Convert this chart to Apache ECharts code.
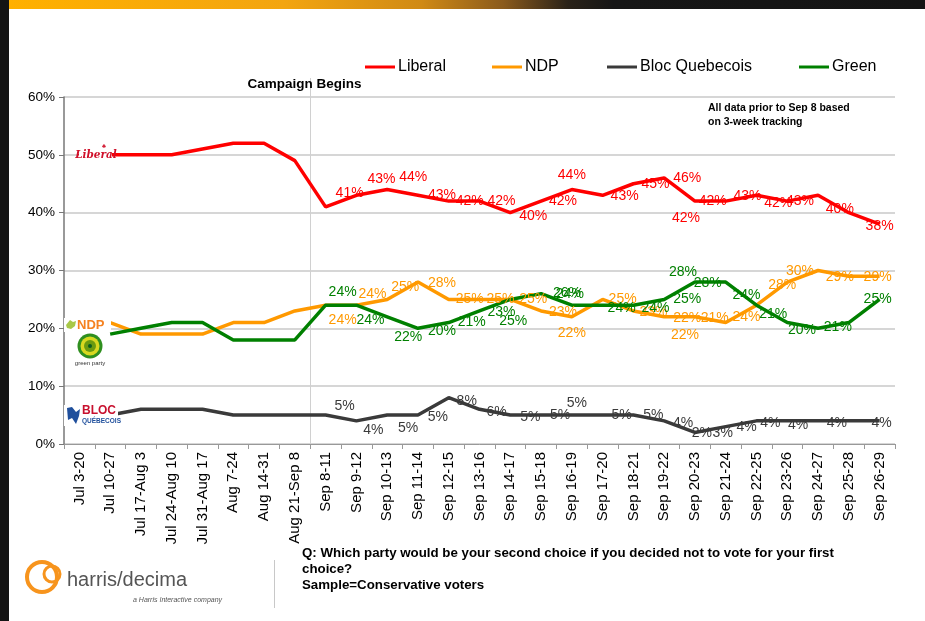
<!DOCTYPE html>
<html>
<head>
<meta charset="utf-8">
<script src="https://cdn.jsdelivr.net/npm/echarts@6/dist/echarts.min.js"></script>
<style>
html,body{margin:0;padding:0;background:#fff;}
#c{width:925px;height:621px;}
</style>
</head>
<body>
<div id="c"></div>
<script>
const categories = ['Jul 3-20','Jul 10-27','Jul 17-Aug 3','Jul 24-Aug 10','Jul 31-Aug 17','Aug 7-24','Aug 14-31','Aug 21-Sep 8',
  'Sep 8-11','Sep 9-12','Sep 10-13','Sep 11-14','Sep 12-15','Sep 13-16','Sep 14-17','Sep 15-18','Sep 16-19','Sep 17-20',
  'Sep 18-21','Sep 19-22','Sep 20-23','Sep 21-24','Sep 22-25','Sep 23-26','Sep 24-27','Sep 25-28','Sep 26-29'];
const liberal = [null,50,50,50,51,52,52,49,41,43,44,43,42,42,40,42,44,43,45,46,42,42,43,42,43,40,38];
const ndp     = [null,21,19,19,19,21,21,23,24,24,25,28,25,25,25,23,22,25,23,22,22,21,24,28,30,29,29];
const bloc    = [null,5,6,6,6,5,5,5,5,4,5,5,8,6,5,5,5,5,5,4,2,3,4,4,4,4,4];
const green   = [null,19,20,21,21,18,18,18,24,24,22,20,21,23,25,26,24,24,24,25,28,28,24,21,20,21,25];
const yTicks = [0,10,20,30,40,50,60];

// label layout (offsets in px of each daily-tracking label from its point, first labelled index = 8)
const firstLabelled = 8;
const liberalLabelOffset = [[24,-14],[25,-16],[26,-12],[24,0],[21,0],[22,0],[23,3],[22,0],[0,-14],[22,1],[22,0],[23,0],[-9,17],[-13,0],[-9,1],[-9,2],[-18,6],[-9,-4],[0,2]];
const ndpLabelOffset = [[17,15],[16,-11],[18,-12],[24,1],[21,0],[21,0],[23,0],[22,1],[0,16],[20,0],[20,1],[23,1],[-10,18],[-11,-4],[-10,12],[-5,3],[-18,1],[-9,1],[-2,1]];
const blocLabelOffset = [[19,-9],[17,9],[21,13],[20,2],[18,3],[17,3],[20,2],[19,0],[5,-12],[19,0],[20,0],[19,2],[7,1],[-3,6],[-10,6],[-17,2],[-20,4],[-12,2],[2,2]];
const greenLabelOffset = [[17,-13],[14,15],[21,20],[24,3],[23,0],[22,1],[3,22],[26,0],[-2,-11],[19,3],[22,3],[23,0],[-12,-10],[-18,1],[-10,-10],[-14,-8],[-16,2],[-11,5],[-2,0]];

const FONT = '"Liberation Sans", Arial, sans-serif';
const NARROW = '"Liberation Sans Narrow", "Liberation Sans", Arial, sans-serif';

function buildData(vals, offsets) {
  return vals.map((v, i) => {
    if (i < firstLabelled || v == null) return {value: v, label: {show: false}};
    return {value: v, label: {show: true, offset: offsets[i - firstLabelled]}};
  });
}
function makeSeries(name, vals, offsets, color) {
  return {
    name: name, type: 'line', data: buildData(vals, offsets),
    symbol: 'circle', symbolSize: 0.1, showSymbol: true,
    lineStyle: {color: color, width: 3.5},
    itemStyle: {color: color},
    label: {position: 'inside', color: color, fontFamily: FONT, fontSize: 14,
      formatter: p => p.value + '%', align: 'center', verticalAlign: 'middle'},
    emphasis: {disabled: true},
    animation: false
  };
}
function legendAt(name, left) {
  return {data: [name], left: left, top: 54, itemWidth: 30, itemHeight: 3, icon: 'rect', itemGap: 0,
    textStyle: {fontFamily: NARROW, fontSize: 16, color: '#000', padding: [0,0,0,-2]}};
}

const chart = echarts.init(document.getElementById('c'), null, {renderer: 'canvas'});
const option = {
  backgroundColor: '#fff',
  animation: false,
  legend: [legendAt('Liberal', 360), legendAt('NDP', 487), legendAt('Bloc Quebecois', 602), legendAt('Green', 794)],
  grid: {left: 64, right: 30, top: 97, bottom: 177, containLabel: false},
  xAxis: {
    type: 'category', data: categories, boundaryGap: true,
    axisLine: {lineStyle: {color: '#999', width: 1}},
    axisTick: {show: true, length: 5, lineStyle: {color: '#999'}},
    axisLabel: {rotate: 90, interval: 0, fontFamily: FONT, fontSize: 15, color: '#000', margin: 8}
  },
  yAxis: {
    type: 'value', min: 0, max: 60, interval: 10,
    axisLine: {show: true, lineStyle: {color: '#777', width: 1.5}},
    axisTick: {show: true, length: 5, lineStyle: {color: '#777'}},
    splitLine: {lineStyle: {color: '#c8c8c8', width: 1.5}},
    axisLabel: {fontFamily: FONT, fontSize: 13.5, color: '#000', margin: 9,
      formatter: v => yTicks.includes(v) ? v + '%' : ''}
  },
  series: [
    makeSeries('Liberal', liberal, liberalLabelOffset, '#ff0000'),
    makeSeries('NDP', ndp, ndpLabelOffset, '#ff9900'),
    makeSeries('Bloc Quebecois', bloc, blocLabelOffset, '#3a3a3a'),
    makeSeries('Green', green, greenLabelOffset, '#008000')
  ]
};
chart.setOption(option);

// Campaign line at the boundary between Aug 21-Sep 8 and Sep 8-11
const xa = chart.convertToPixel({xAxisIndex: 0}, 'Aug 21-Sep 8');
const xb = chart.convertToPixel({xAxisIndex: 0}, 'Sep 8-11');
const campX = Math.round((xa + xb) / 2) + 0.5;
const yTop = chart.convertToPixel({yAxisIndex: 0}, 60);
const yBot = chart.convertToPixel({yAxisIndex: 0}, 0);

chart.setOption({
  graphic: [
    // page frame
    {type: 'rect', shape: {x: 0, y: 0, width: 9, height: 621}, style: {fill: '#141414'}, silent: true},
    {type: 'rect', shape: {x: 9, y: 0, width: 916, height: 9},
      style: {fill: new echarts.graphic.LinearGradient(0, 0, 1, 0, [
        {offset: 0, color: '#ffb000'}, {offset: 0.3, color: '#f3a510'}, {offset: 0.45, color: '#d08a15'},
        {offset: 0.54, color: '#8a5a1c'}, {offset: 0.61, color: '#2a2218'}, {offset: 0.66, color: '#161616'}, {offset: 1, color: '#141414'}])}, silent: true},
    // campaign line & label
    {type: 'line', shape: {x1: campX, y1: yTop - 19, x2: campX, y2: yBot}, style: {stroke: '#d0d0d0', lineWidth: 1}, silent: true, z: 1},
    {type: 'text', x: campX - 6, y: 84, style: {text: 'Campaign Begins', fontFamily: NARROW, fontWeight: 'bold', fontSize: 13.5, fill: '#000', align: 'center', verticalAlign: 'middle'}, z: 10},
    {type: 'text', x: 708, y: 101, style: {text: 'All data prior to Sep 8 based\non 3-week tracking', fontFamily: FONT, fontWeight: 'bold', fontSize: 10.5, lineHeight: 14, fill: '#000'}},
    // party logos
    {type: 'rect', shape: {x: 79, y: 145, width: 33, height: 19}, style: {fill: '#fff'}, z: 20},
    {type: 'line', shape: {x1: 77, y1: 154.5, x2: 79, y2: 154.5}, style: {stroke: '#e00', lineWidth: 1.5}, z: 21},
    {type: 'text', x: 96, y: 155, style: {text: 'Liberal', fontFamily: '"DejaVu Serif", serif', fontStyle: 'italic', fontWeight: 'bold', fontSize: 10.5, fill: '#d0102a', align: 'center', verticalAlign: 'middle'}, z: 21},
    {type: 'text', x: 104, y: 146, style: {text: '♣', fontSize: 6, fill: '#d0102a', align: 'center', verticalAlign: 'middle'}, z: 21},
    {type: 'rect', shape: {x: 64, y: 318, width: 47, height: 14}, style: {fill: '#fff'}, z: 20},
    {type: 'polygon', shape: {points: [[66,325],[70,320],[73,322],[76,321],[75,326],[71,329],[67,328]]}, style: {fill: '#a8c848'}, z: 21},
    {type: 'text', x: 77, y: 325, style: {text: 'NDP', fontFamily: FONT, fontWeight: 'bold', fontSize: 13, fill: '#f58220', verticalAlign: 'middle'}, z: 21},
    {type: 'circle', shape: {cx: 90, cy: 346, r: 12.5}, style: {fill: '#2f8f1f'}, z: 21},
    {type: 'circle', shape: {cx: 90, cy: 346, r: 9.5}, style: {fill: '#d8d820'}, z: 21},
    {type: 'circle', shape: {cx: 90, cy: 346, r: 6}, style: {fill: '#6a9a10'}, z: 21},
    {type: 'circle', shape: {cx: 90, cy: 346, r: 2}, style: {fill: '#0b5d1e'}, z: 21},
    {type: 'text', x: 90, y: 363, style: {text: 'green party', fontFamily: FONT, fontSize: 6, fill: '#333', align: 'center', verticalAlign: 'middle'}, z: 21},
    {type: 'rect', shape: {x: 64, y: 405, width: 54, height: 21}, style: {fill: '#fff'}, z: 20},
    {type: 'polygon', shape: {points: [[67,408],[72,407],[76,412],[80,409],[79,416],[76,424],[72,418],[68,420]]}, style: {fill: '#1f4f9c'}, z: 21},
    {type: 'text', x: 82, y: 411, style: {text: 'BLOC', fontFamily: FONT, fontWeight: 'bold', fontSize: 12, fill: '#c8102e', verticalAlign: 'middle'}, z: 21},
    {type: 'text', x: 82, y: 421, style: {text: 'QUÉBECOIS', fontFamily: FONT, fontWeight: 'bold', fontSize: 6.5, fill: '#1f4f9c', verticalAlign: 'middle'}, z: 21},
    // footer
    {type: 'circle', shape: {cx: 42, cy: 577, r: 15}, style: {fill: 'none', stroke: '#f7941d', lineWidth: 4}},
    {type: 'circle', shape: {cx: 52, cy: 574, r: 8}, style: {fill: 'none', stroke: '#f7941d', lineWidth: 3}},
    {type: 'text', x: 67, y: 580, style: {text: 'harris/decima', fontFamily: FONT, fontSize: 20, fill: '#555', verticalAlign: 'middle'}},
    {type: 'text', x: 133, y: 600, style: {text: 'a Harris Interactive company', fontFamily: FONT, fontStyle: 'italic', fontSize: 7, fill: '#555', verticalAlign: 'middle'}},
    {type: 'line', shape: {x1: 274.5, y1: 560, x2: 274.5, y2: 608}, style: {stroke: '#c8c8c8', lineWidth: 1}},
    {type: 'text', x: 302, y: 545, style: {text: 'Q: Which party would be your second choice if you decided not to vote for your first\nchoice?\nSample=Conservative voters', fontFamily: NARROW, fontWeight: 'bold', fontSize: 13.3, lineHeight: 16, fill: '#000'}}
  ]
});
</script>
</body>
</html>
